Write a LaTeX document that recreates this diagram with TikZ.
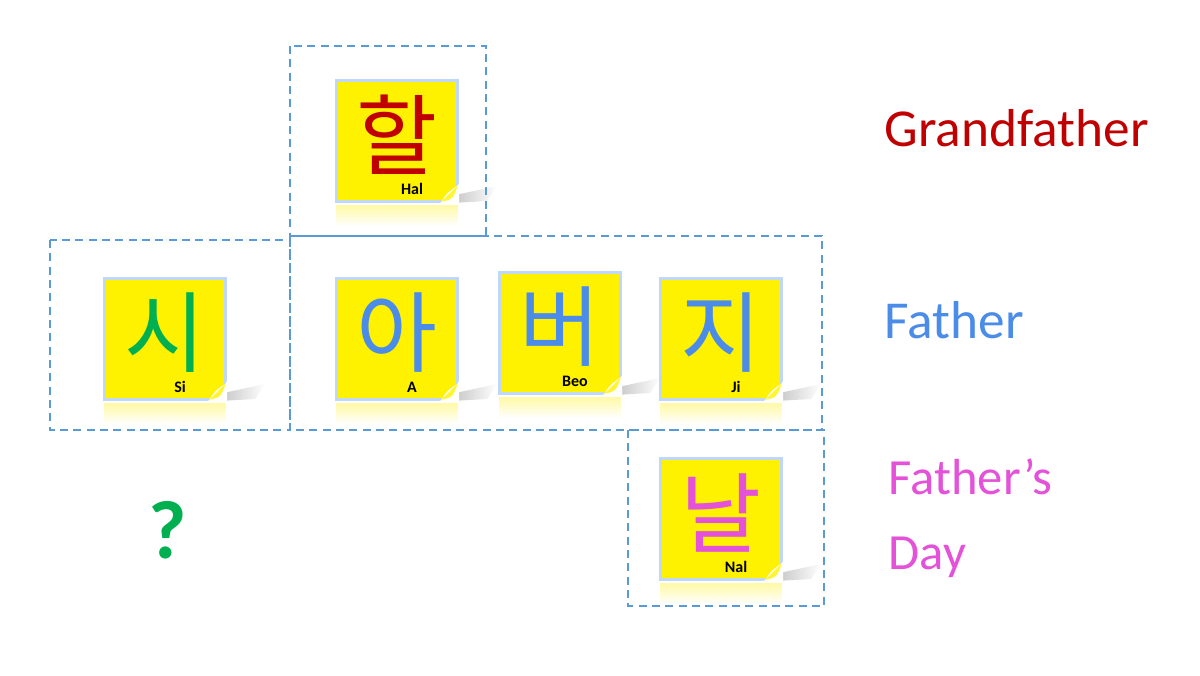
\documentclass[tikz,border=0pt]{standalone}
\usepackage{fontspec}
\setmainfont{Carlito}
\newfontfamily\kor{Noto Sans CJK KR}
\usetikzlibrary{shadings,fadings}
\definecolor{gf}{HTML}{C00000}
\definecolor{fa}{HTML}{4A8CE8}
\definecolor{fd}{HTML}{E352D8}
\definecolor{qm}{HTML}{00B050}
\definecolor{dbox}{HTML}{5B9BD5}
\tikzset{
  dbox/.style={draw=dbox,line width=1.3pt,dash pattern=on 6pt off 4pt},
  notebg/.style={fill=yellow,draw=fa!35,line width=2pt,minimum width=91pt,minimum height=91pt,inner sep=0pt},
  lbl/.style={font=\fontsize{40}{48}\selectfont,anchor=west},
}
\newcommand\stickynote[6]{%
  % #1 name, #2 x, #3 y (center, px), #4 char, #5 colour, #6 label
  \fill[gray!60,path fading=east] (#2+40,#3+58) -- (#2+100,#3+45) -- (#2+90,#3+60) -- (#2+55,#3+62) -- cycle;
  \fill[yellow!35,path fading=south] (#2-61,#3+64) rectangle (#2+61,#3+85);
  \node[notebg] (#1) at (#2,#3) {};
  \fill[yellow!70!orange] (#2+61,#3+44) -- (#2+44,#3+61) .. controls (#2+50,#3+52) .. (#2+61,#3+44) -- cycle;
  \fill[white] (#2+62,#3+42) -- (#2+62,#3+63) -- (#2+42,#3+63) -- (#2+44,#3+61) .. controls (#2+50,#3+52) .. (#2+61,#3+44) -- cycle;
  \fill[yellow!80!white] (#2+61,#3+44) -- (#2+44,#3+61) .. controls (#2+56,#3+58) .. (#2+61,#3+44) -- cycle;
  \node[text=#5,font=\kor\fontsize{66}{70}\selectfont] at (#2,#3-6) {#4};
  \node[font=\bfseries\fontsize{12}{14}\selectfont] at (#2+15,#3+48) {#6};
}
\begin{document}
\begin{tikzpicture}[x=0.75pt,y=-0.75pt]
\useasboundingbox (0,0) rectangle (1200,675);
\fill[white] (0,0) rectangle (1200,675);
\stickynote{hal}{397}{141}{할}{gf}{Hal}
\stickynote{si}{165}{339}{시}{qm}{Si}
\stickynote{a}{397}{339}{아}{fa}{A}
\stickynote{beo}{560}{333}{버}{fa}{Beo}
\stickynote{ji}{721}{339}{지}{fa}{Ji}
\stickynote{nal}{721}{519}{날}{fd}{Nal}
\draw[dbox] (290,46) rectangle (486,236);
\draw[dbox] (50,240) rectangle (290,430);
\draw[dbox] (290,236) rectangle (822,430);
\draw[dbox] (628,430) rectangle (824,606);
\node[lbl,text=gf] (tg) at (880,128) {Grandfather};
\node[lbl,text=fa] (tf) at (880,320) {Father};
\node[lbl,text=fd,align=left,font=\fontsize{38}{56}\selectfont] (td) at (884,518) {Father’s\\Day};
\node[text=qm,font=\bfseries\fontsize{62}{70}\selectfont] (q) at (168,530) {?};
\end{tikzpicture}
\end{document}
